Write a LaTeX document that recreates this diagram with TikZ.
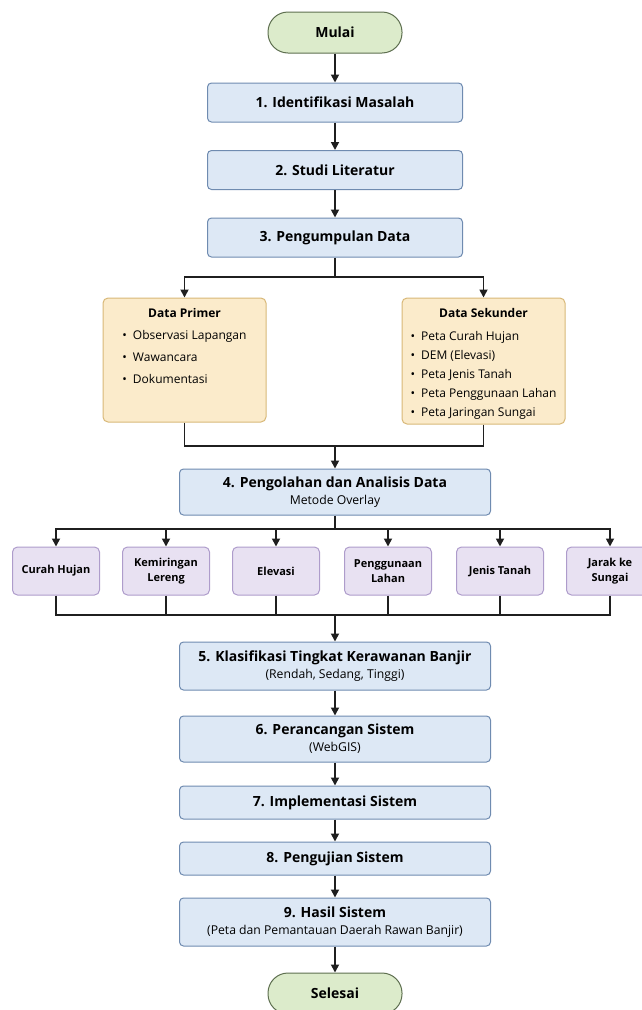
\documentclass[tikz,border=0pt]{standalone}
\usepackage{fontspec}
\setmainfont{Open Sans}
\usetikzlibrary{arrows.meta}

\definecolor{stepfill}{HTML}{DDE8F5}
\definecolor{stepline}{HTML}{6F8BB0}
\definecolor{termfill}{HTML}{DCEBCB}
\definecolor{termline}{HTML}{5E6F50}
\definecolor{datafill}{HTML}{FBEBCB}
\definecolor{dataline}{HTML}{D8B878}
\definecolor{factfill}{HTML}{E8E1F2}
\definecolor{factline}{HTML}{AE9CCB}

\newcommand{\substep}[1]{{\mdseries\fontsize{12.2}{14}\selectfont #1}}

\begin{document}
\begin{tikzpicture}[x=1pt, y=-1pt,
    every node/.style={font=\bfseries\fontsize{14}{17}\selectfont, align=center, inner sep=2pt},
    terminal/.style={draw=termline, fill=termfill, line width=1pt, rounded corners=20pt,
        minimum width=134pt, minimum height=41pt},
    stepbox/.style={draw=stepline, fill=stepfill, line width=1pt, rounded corners=4pt,
        minimum width=311pt},
    smallstep/.style={stepbox, minimum width=255pt, minimum height=39pt},
    databox/.style={draw=dataline, fill=datafill, line width=1pt, rounded corners=5pt,
        minimum width=163pt},
    factor/.style={draw=factline, fill=factfill, line width=1pt, rounded corners=5pt,
        minimum width=87pt, minimum height=48pt,
        font=\bfseries\fontsize{11}{15.5}\selectfont},
    listtext/.style={font=\fontsize{12}{14.5}\selectfont, anchor=north},
    conn/.style={line width=1.7pt, draw=black!88},
    arr/.style={conn, -{Triangle[length=8pt,width=8pt]}}]

\useasboundingbox (0,0) rectangle (642,1010);
\clip (0,0) rectangle (642,1010);

% main steps
\node[terminal] (mulai) at (335,32.5) {Mulai};
\node[smallstep] (s1) at (335,102.5) {1. Identifikasi Masalah};
\node[smallstep] (s2) at (335,170) {2. Studi Literatur};
\node[smallstep] (s3) at (335,237.5) {3. Pengumpulan Data};

% data boxes
\node[databox, minimum height=124pt] (primer) at (184.5,360) {};
\node[databox, minimum height=126pt] (sekunder) at (483.5,361) {};
\node[listtext] (primertxt) at (184.5,306) {{\bfseries Data Primer}\\[11pt]
    \begin{tabular}{@{}l@{}}
    \textbullet\enspace Observasi Lapangan\\[7.5pt]
    \textbullet\enspace Wawancara\\[7.5pt]
    \textbullet\enspace Dokumentasi
    \end{tabular}};
\node[listtext] (sekundertxt) at (483.5,306) {{\bfseries Data Sekunder}\\[12pt]
    \begin{tabular}{@{}l@{}}
    \textbullet\enspace Peta Curah Hujan\\[4.6pt]
    \textbullet\enspace DEM (Elevasi)\\[4.6pt]
    \textbullet\enspace Peta Jenis Tanah\\[4.6pt]
    \textbullet\enspace Peta Penggunaan Lahan\\[4.6pt]
    \textbullet\enspace Peta Jaringan Sungai
    \end{tabular}};

\node[stepbox, minimum height=46pt] (s4) at (335,492) {4. Pengolahan dan Analisis Data\\ \substep{Metode Overlay}};

% overlay factors
\node[factor] (f1) at (56,571) {Curah Hujan};
\node[factor] (f2) at (166,571) {Kemiringan\\Lereng};
\node[factor] (f3) at (276,571) {Elevasi};
\node[factor] (f4) at (388,571) {Penggunaan\\Lahan};
\node[factor] (f5) at (500,571) {Jenis Tanah};
\node[factor] (f6) at (610,571) {Jarak ke\\Sungai};

\node[stepbox, minimum height=48pt] (s5) at (335,666) {5. Klasifikasi Tingkat Kerawanan Banjir\\ \substep{(Rendah, Sedang, Tinggi)}};
\node[stepbox, minimum height=46pt] (s6) at (335,739) {6. Perancangan Sistem\\ \substep{(WebGIS)}};
\node[stepbox, minimum height=33pt] (s7) at (335,802.5) {7. Implementasi Sistem};
\node[stepbox, minimum height=33pt] (s8) at (335,858.5) {8. Pengujian Sistem};
\node[stepbox, minimum height=48pt] (s9) at (335,922) {9. Hasil Sistem\\ \substep{(Peta dan Pemantauan Daerah Rawan Banjir)}};
\node[terminal] (selesai) at (335,993.5) {Selesai};

% branch and join points
\coordinate (split1) at (335,277);
\coordinate (join1) at (335,446);
\coordinate (split2) at (335,529);
\coordinate (join2) at (335,615);

\draw[arr] (mulai) -- (s1);
\draw[arr] (s1) -- (s2);
\draw[arr] (s2) -- (s3);
\draw[conn] (s3) -- (split1);
\draw[arr] (split1) -| (primer);
\draw[arr] (split1) -| (sekunder);
\draw[conn] (primer) |- (join1);
\draw[conn] (sekunder) |- (join1);
\draw[arr] (join1) -- (s4);
\draw[conn] (s4) -- (split2);
\foreach \i in {1,...,6} {
    \draw[arr] (split2) -| (f\i);
    \draw[conn] (f\i) |- (join2);
}
\draw[arr] (join2) -- (s5);
\draw[arr] (s5) -- (s6);
\draw[arr] (s6) -- (s7);
\draw[arr] (s7) -- (s8);
\draw[arr] (s8) -- (s9);
\draw[arr] (s9) -- (selesai);
\end{tikzpicture}
\end{document}
